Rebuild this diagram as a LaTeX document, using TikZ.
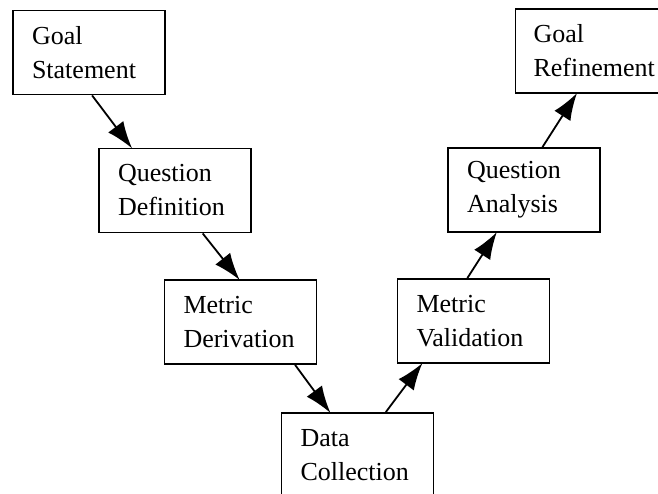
\documentclass[tikz,border=0pt]{standalone}
\usepackage{fontspec}
\setmainfont{Liberation Serif}
\usetikzlibrary{calc,arrows.meta}
\tikzset{
  stepbox/.style={draw=black, line width=1.8pt, minimum height=84pt, text width=114pt,
    inner xsep=19pt, inner ysep=4pt, align=left, font=\fontsize{26}{34}\selectfont},
  arr/.style={line width=1.8pt, -{Latex[length=27pt 0, width=19pt 0]}, shorten >=-1pt}
}
\begin{document}
\begin{tikzpicture}[x=1pt,y=-1pt]
\clip (0,0) rectangle (658,493);
\fill[white] (0,0) rectangle (658,493);
\node[stepbox] (gs) at (89,52.5) {Goal\\Statement};
\node[stepbox] (qd) at (175,190.5) {Question\\Definition};
\node[stepbox] (md) at (240.5,322) {Metric\\Derivation};
\node[stepbox] (dc) at (357.5,455) {Data\\Collection};
\node[stepbox] (mv) at (473.5,321) {Metric\\Validation};
\node[stepbox] (qa) at (524,190) {Question\\Analysis};
\node[stepbox, text width=125pt, inner xsep=18pt] (gr) at (596,51) {Goal\\Refinement};
\draw[arr] ($(gs.south west)!0.52!(gs.south east)$) -- ($(qd.north west)!0.217!(qd.north east)$);
\draw[arr] ($(qd.south west)!0.68!(qd.south east)$) -- ($(md.north west)!0.49!(md.north east)$);
\draw[arr] ($(md.south west)!0.855!(md.south east)$) -- ($(dc.north west)!0.32!(dc.north east)$);
\draw[arr] ($(dc.north west)!0.684!(dc.north east)$) -- ($(mv.south west)!0.164!(mv.south east)$);
\draw[arr] ($(mv.north west)!0.46!(mv.north east)$) -- ($(qa.south west)!0.32!(qa.south east)$);
\draw[arr] ($(qa.north west)!0.62!(qa.north east)$) -- ($(gr.south west)!0.38!(gr.south east)$);
\end{tikzpicture}
\end{document}
